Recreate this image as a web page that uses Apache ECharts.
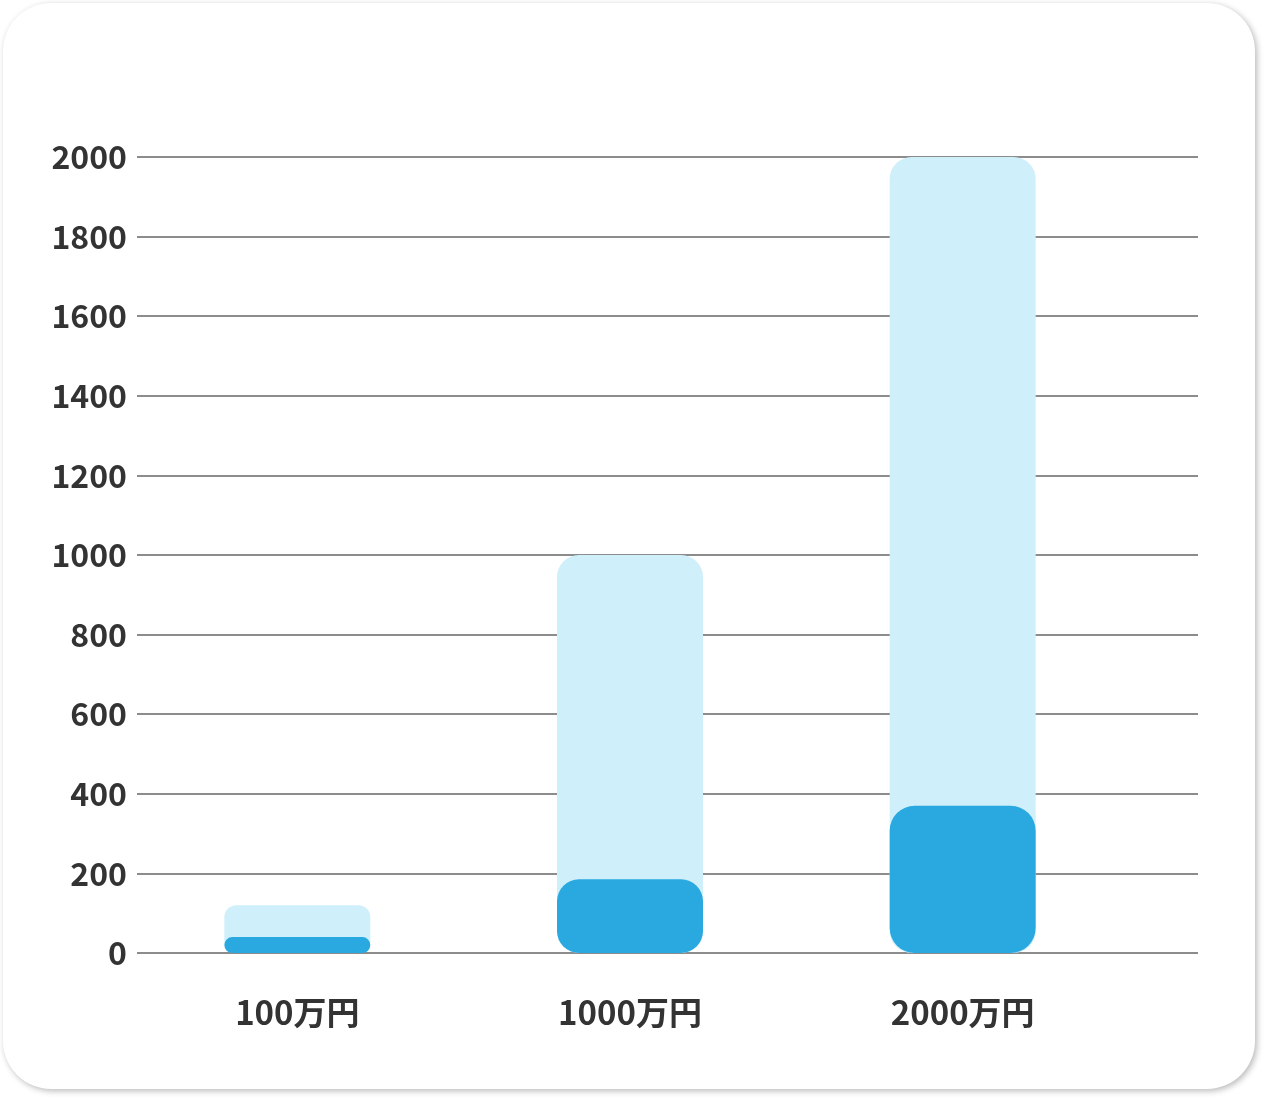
<!DOCTYPE html>
<html>
<head>
<meta charset="utf-8">
<script src="https://cdn.jsdelivr.net/npm/echarts@6/dist/echarts.min.js"></script>
<style>
html,body{margin:0;padding:0;background:#ffffff;}
#chart{width:1266px;height:1100px;}
</style>
</head>
<body>
<div id="chart"></div>
<script>
var categories = ['100万円', '1000万円', '2000万円'];
var totalValues = [120, 1000, 2000];
var partValues = [40, 185, 370];
var yTicks = [0, 200, 400, 600, 800, 1000, 1200, 1400, 1600, 1800, 2000];

var FONT = '"Noto Sans CJK JP", "Noto Sans", sans-serif';
var lightRadius = [12, 22, 22];
var darkRadius = [8, 22, 25];

var chart = echarts.init(document.getElementById('chart'), null, {renderer: 'canvas'});
var option = {
  backgroundColor: '#ffffff',
  animation: false,
  graphic: [{
    type: 'rect',
    z: -10,
    shape: {x: 3, y: 3, width: 1252, height: 1086, r: 48},
    style: {
      fill: '#ffffff',
      shadowBlur: 6,
      shadowOffsetX: 2,
      shadowOffsetY: 2,
      shadowColor: 'rgba(0,0,0,0.28)'
    }
  }],
  grid: [
    {left: 137, right: 68, top: 157, bottom: 147, containLabel: false},
    {left: 131, width: 998, top: 157, bottom: 147, containLabel: false}
  ],
  xAxis: [
    {gridIndex: 0, type: 'category', data: categories, show: false},
    {
      gridIndex: 1, type: 'category', data: categories,
      axisLine: {show: false}, axisTick: {show: false},
      axisLabel: {
        margin: 43, fontSize: 33, fontWeight: 'bold', color: '#333333', fontFamily: FONT
      }
    }
  ],
  yAxis: [
    {
      gridIndex: 0, type: 'value', min: yTicks[0], max: yTicks[yTicks.length - 1], interval: 200,
      axisLine: {show: false}, axisTick: {show: false},
      axisLabel: {
        margin: 10, fontSize: 32, fontWeight: 'bold', color: '#333333', fontFamily: FONT,
        formatter: function (v) { return String(v); }
      },
      splitLine: {lineStyle: {color: '#8c8c8c', width: 2}}
    },
    {
      gridIndex: 1, type: 'value', min: yTicks[0], max: yTicks[yTicks.length - 1], interval: 200,
      show: false, splitLine: {show: false}
    }
  ],
  series: [
    {
      type: 'bar', xAxisIndex: 1, yAxisIndex: 1,
      barWidth: 146, barGap: '-100%',
      data: totalValues.map(function (v, i) {
        return {value: v, itemStyle: {color: '#cfeffb', borderRadius: lightRadius[i]}};
      })
    },
    {
      type: 'bar', xAxisIndex: 1, yAxisIndex: 1,
      barWidth: 146, barGap: '-100%',
      data: partValues.map(function (v, i) {
        return {value: v, itemStyle: {color: '#29a9e0', borderRadius: darkRadius[i]}};
      })
    }
  ]
};
chart.setOption(option);
</script>
</body>
</html>
